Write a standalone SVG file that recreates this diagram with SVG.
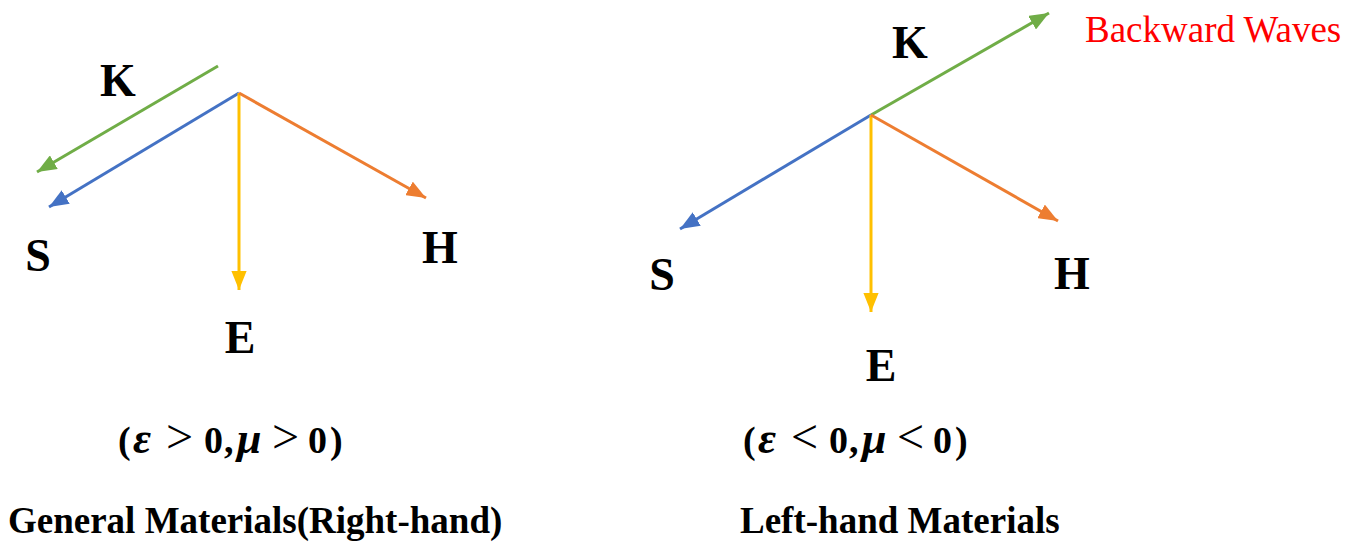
<svg xmlns="http://www.w3.org/2000/svg" width="1362" height="542" viewBox="0 0 1362 542">
<style>
.lbl{font-family:"Liberation Serif","Times New Roman",serif;font-weight:bold;font-size:46px;fill:#000}
.math{font-family:"Liberation Serif","Times New Roman",serif;font-weight:bold;font-size:38px;fill:#000}
.mi{font-style:italic;font-size:44px}
.op{font-size:48px;font-weight:normal}
.title{font-family:"Liberation Serif","Times New Roman",serif;font-weight:bold;font-size:37px;fill:#000}
.red{font-family:"Liberation Serif","Times New Roman",serif;font-size:37px;fill:#FF0000}
.ln{stroke-width:3;fill:none}
</style>
<defs>
<marker id="aG" viewBox="0 0 10 8" refX="10" refY="4" markerWidth="6.5" markerHeight="5.2" orient="auto"><path d="M0,0 L10,4 L0,8 Z" fill="#70AD47"/></marker>
<marker id="aB" viewBox="0 0 10 8" refX="10" refY="4" markerWidth="6.5" markerHeight="5.2" orient="auto"><path d="M0,0 L10,4 L0,8 Z" fill="#4472C4"/></marker>
<marker id="aO" viewBox="0 0 10 8" refX="10" refY="4" markerWidth="6.5" markerHeight="5.2" orient="auto"><path d="M0,0 L10,4 L0,8 Z" fill="#ED7D31"/></marker>
<marker id="aY" viewBox="0 0 10 8" refX="10" refY="4" markerWidth="6.5" markerHeight="5.2" orient="auto"><path d="M0,0 L10,4 L0,8 Z" fill="#FFC000"/></marker>
</defs>
<g id="connectors">
<line class="ln" x1="218" y1="66" x2="37" y2="172" stroke="#70AD47" marker-end="url(#aG)"/>
<line class="ln" x1="239" y1="93" x2="49" y2="207" stroke="#4472C4" marker-end="url(#aB)"/>
<line class="ln" x1="239" y1="93" x2="239" y2="290" stroke="#FFC000" marker-end="url(#aY)"/>
<line class="ln" x1="239" y1="93" x2="426" y2="198" stroke="#ED7D31" marker-end="url(#aO)"/>
<line class="ln" x1="871" y1="115" x2="1049" y2="13" stroke="#70AD47" marker-end="url(#aG)"/>
<line class="ln" x1="871" y1="115" x2="680" y2="229" stroke="#4472C4" marker-end="url(#aB)"/>
<line class="ln" x1="871" y1="115" x2="871" y2="312" stroke="#FFC000" marker-end="url(#aY)"/>
<line class="ln" x1="871" y1="115" x2="1058" y2="221" stroke="#ED7D31" marker-end="url(#aO)"/>
</g>
<g id="left-K"><text class="lbl" x="118" y="96" text-anchor="middle">K</text></g>
<g id="left-S"><text class="lbl" x="38" y="271" text-anchor="middle">S</text></g>
<g id="left-E"><text class="lbl" x="240" y="353" text-anchor="middle">E</text></g>
<g id="left-H"><text class="lbl" x="440" y="263" text-anchor="middle">H</text></g>
<g id="right-K"><text class="lbl" x="910" y="58" text-anchor="middle">K</text></g>
<g id="right-S"><text class="lbl" x="662" y="290" text-anchor="middle">S</text></g>
<g id="right-E"><text class="lbl" x="881" y="381" text-anchor="middle">E</text></g>
<g id="right-H"><text class="lbl" x="1072" y="289" text-anchor="middle">H</text></g>
<g id="backward-waves"><text class="red" x="1085" y="42">Backward Waves</text></g>
<g id="left-cond"><text class="math" y="453"><tspan x="118">(</tspan><tspan class="mi" x="133">ε</tspan><tspan class="op" x="166">&gt;</tspan><tspan x="204">0</tspan><tspan x="224">,</tspan><tspan class="mi" x="237">μ</tspan><tspan class="op" x="272">&gt;</tspan><tspan x="308">0</tspan><tspan x="330">)</tspan></text></g>
<g id="right-cond"><text class="math" y="453"><tspan x="743">(</tspan><tspan class="mi" x="758">ε</tspan><tspan class="op" x="791">&lt;</tspan><tspan x="829">0</tspan><tspan x="849">,</tspan><tspan class="mi" x="862">μ</tspan><tspan class="op" x="897">&lt;</tspan><tspan x="933">0</tspan><tspan x="955">)</tspan></text></g>
<g id="left-title"><text class="title" x="8" y="533">General Materials(Right-hand)</text></g>
<g id="right-title"><text class="title" x="740" y="533">Left-hand Materials</text></g>
</svg>
